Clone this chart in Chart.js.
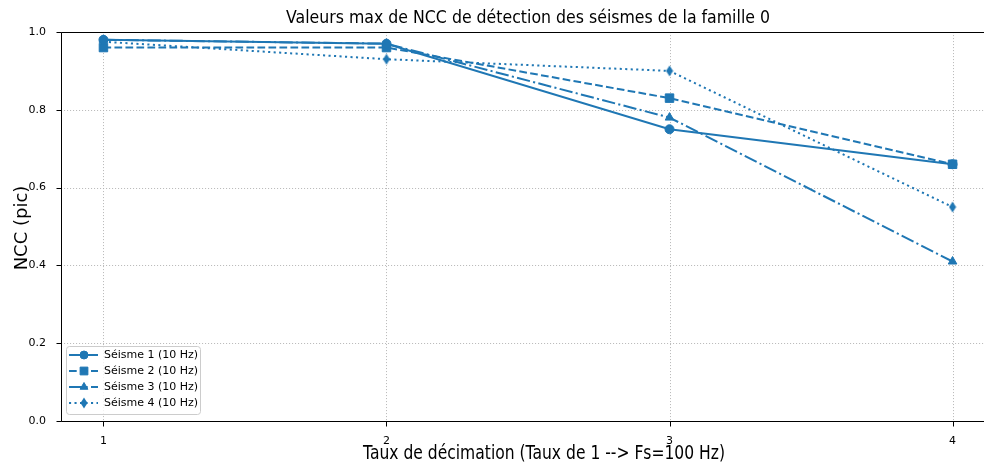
<!DOCTYPE html>
<html>
<head>
<meta charset="utf-8">
<script src="https://cdn.jsdelivr.net/npm/chart.js@4"></script>
<style>
  html, body { margin: 0; padding: 0; overflow: hidden; background: #fff; }
  #wrap { width: 984px; height: 466px; overflow: hidden; position: relative; }
  #myChart { position: absolute; left: 0; top: 0; width: 1002px; height: 466px; }
</style>
</head>
<body>
<div id="wrap"><canvas id="myChart" width="1002" height="466"></canvas></div>
<script>
// values
let rates = [1, 2, 3, 4];
let seisme1 = [0.98, 0.97, 0.75, 0.66];
let seisme2 = [0.96, 0.96, 0.83, 0.66];
let seisme3 = [0.98, 0.97, 0.78, 0.41];
let seisme4 = [0.975, 0.93, 0.90, 0.55];
let labels = ['Séisme 1 (10 Hz)', 'Séisme 2 (10 Hz)', 'Séisme 3 (10 Hz)', 'Séisme 4 (10 Hz)'];
let xTicks = [1, 2, 3, 4];
let yTicks = [0, 0.2, 0.4, 0.6, 0.8, 1.0];

let blue = '#1f77b4';
let dashes = [[], [7.7, 3.3], [13.3, 3.3, 2.1, 3.3], [2.1, 3.4]];

// thin diamond marker like matplotlib 'd'
let diamond = document.createElement('canvas');
diamond.width = 8; diamond.height = 12;
let dc = diamond.getContext('2d');
dc.fillStyle = blue;
dc.beginPath();
dc.moveTo(4, 0.5); dc.lineTo(7.5, 6); dc.lineTo(4, 11.5); dc.lineTo(0.5, 6);
dc.closePath(); dc.fill();

let styles = ['circle', 'rect', 'triangle', diamond];
let radii = [4.5, 6, 5, 5];

function pts(vals) {
  return rates.map((r, i) => ({ x: r, y: vals[i] }));
}

let series = [seisme1, seisme2, seisme3, seisme4];
let datasets = series.map((s, i) => ({
  label: labels[i],
  data: pts(s),
  borderColor: blue,
  backgroundColor: blue,
  borderWidth: 2,
  borderDash: dashes[i],
  pointStyle: styles[i],
  pointRadius: radii[i],
  pointBorderWidth: 1,
  pointBorderColor: blue,
  pointBackgroundColor: blue,
  tension: 0
}));

// text squeezed horizontally to match the picture
function squeezed(ctx, text, x, y, font, width) {
  ctx.save();
  ctx.font = font;
  let w = ctx.measureText(text).width;
  ctx.translate(x, y);
  ctx.scale(width / w, 1);
  ctx.textAlign = 'center';
  ctx.fillText(text, 0, 0);
  ctx.restore();
}

let decorations = {
  id: 'decorations',
  beforeDatasetsDraw(chart) {
    let ctx = chart.ctx;
    let a = chart.chartArea;
    let xs = chart.scales.x, ys = chart.scales.y;
    ctx.save();
    ctx.strokeStyle = 'rgba(176,176,176,0.85)';
    ctx.lineWidth = 1;
    ctx.setLineDash([1.1, 1.9]);
    xTicks.forEach(v => {
      let px = Math.round(xs.getPixelForValue(v)) + 0.5;
      ctx.beginPath(); ctx.moveTo(px, a.top); ctx.lineTo(px, a.bottom); ctx.stroke();
    });
    yTicks.forEach(v => {
      let py = Math.round(ys.getPixelForValue(v)) + 0.5;
      ctx.beginPath(); ctx.moveTo(a.left, py); ctx.lineTo(a.right, py); ctx.stroke();
    });
    ctx.restore();
  },
  afterDraw(chart) {
    let ctx = chart.ctx;
    let a = chart.chartArea;
    let xs = chart.scales.x, ys = chart.scales.y;
    ctx.save();
    // spines
    ctx.strokeStyle = '#000';
    ctx.lineWidth = 1;
    ctx.setLineDash([]);
    let L = Math.round(a.left) + 0.5, T = Math.round(a.top) + 0.5, B = Math.round(a.bottom) + 0.5, R = Math.round(a.right) - 0.5;
    ctx.beginPath();
    ctx.moveTo(L, T); ctx.lineTo(R, T); ctx.lineTo(R, B); ctx.lineTo(L, B); ctx.closePath();
    ctx.stroke();
    // tick marks
    xTicks.forEach(v => {
      let px = Math.round(xs.getPixelForValue(v)) + 0.5;
      ctx.beginPath(); ctx.moveTo(px, B); ctx.lineTo(px, B + 5); ctx.stroke();
    });
    yTicks.forEach(v => {
      let py = Math.round(ys.getPixelForValue(v)) + 0.5;
      ctx.beginPath(); ctx.moveTo(L, py); ctx.lineTo(L - 5, py); ctx.stroke();
    });

    // legend box
    let bx = 66, by = 346, bw = 134, bh = 68;
    ctx.fillStyle = 'rgba(255,255,255,0.8)';
    ctx.strokeStyle = '#cccccc';
    ctx.beginPath();
    ctx.roundRect(bx + 0.5, by + 0.5, bw, bh, 3);
    ctx.fill(); ctx.stroke();
    labels.forEach((lab, i) => {
      let yy = by + 9 + i * 16;
      ctx.strokeStyle = blue;
      ctx.lineWidth = 2;
      ctx.setLineDash(dashes[i]);
      ctx.beginPath(); ctx.moveTo(69, yy); ctx.lineTo(98, yy); ctx.stroke();
      ctx.setLineDash([]);
      ctx.fillStyle = blue;
      ctx.strokeStyle = blue;
      ctx.lineWidth = 1;
      Chart.helpers.drawPoint(ctx, { pointStyle: styles[i], radius: radii[i] - 0.5, borderWidth: 1, rotation: 0 }, 84, yy);
      ctx.font = '11px "DejaVu Sans"';
      ctx.fillStyle = '#000';
      ctx.textBaseline = 'middle';
      ctx.textAlign = 'left';
      ctx.fillText(lab, 104, yy + 0.5);
    });

    // title and axis labels
    ctx.fillStyle = '#000';
    ctx.textBaseline = 'alphabetic';
    squeezed(ctx, 'Valeurs max de NCC de détection des séismes de la famille 0', 528, 23, '18px "DejaVu Sans"', 484);
    squeezed(ctx, 'Taux de décimation (Taux de 1 --> Fs=100 Hz)', 544, 459, '20px "DejaVu Sans"', 362);
    ctx.save();
    ctx.translate(22, 228);
    ctx.rotate(-Math.PI / 2);
    ctx.font = '18px "DejaVu Sans"';
    ctx.textAlign = 'center';
    ctx.textBaseline = 'middle';
    ctx.fillText('NCC (pic)', 0, 0);
    ctx.restore();
    ctx.restore();
  }
};

new Chart(document.getElementById('myChart'), {
  type: 'line',
  data: { datasets: datasets },
  options: {
    responsive: false,
    animation: false,
    layout: { padding: { left: 0, top: 32, right: 1, bottom: 0 } },
    plugins: { legend: { display: false }, title: { display: false }, tooltip: { enabled: false } },
    scales: {
      x: {
        type: 'linear',
        min: 0.85,
        max: 4.15,
        grid: { display: false },
        border: { display: false },
        afterBuildTicks: s => { s.ticks = xTicks.map(v => ({ value: v })); },
        afterFit: s => { s.height = 45; },
        ticks: { padding: 6, color: '#000', font: { family: 'DejaVu Sans', size: 11 }, maxRotation: 0, callback: v => String(v) }
      },
      y: {
        type: 'linear',
        min: 0,
        max: 1,
        grid: { display: false },
        border: { display: false },
        afterBuildTicks: s => { s.ticks = yTicks.map(v => ({ value: v })); },
        afterFit: s => { s.width = 61; },
        ticks: { padding: 7, color: '#000', font: { family: 'DejaVu Sans', size: 11 }, callback: v => v.toFixed(1) }
      }
    }
  },
  plugins: [decorations]
});
</script>
</body>
</html>
